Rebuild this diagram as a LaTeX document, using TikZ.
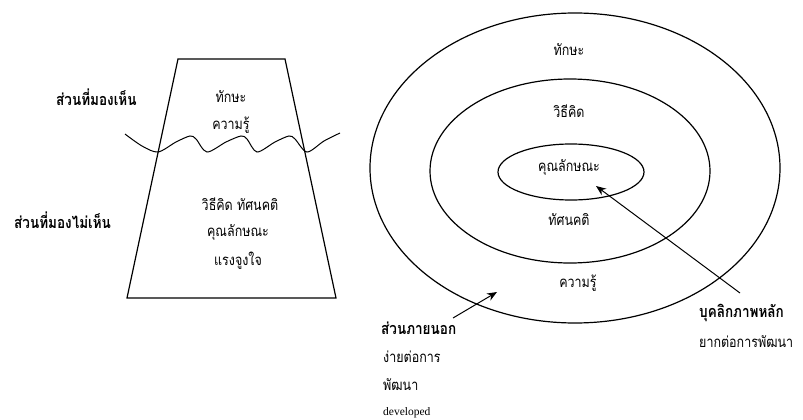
\documentclass[tikz,border=0pt]{standalone}
\usepackage{fontspec}
\usepackage{graphicx}
\newfontfamily\thai[Script=Thai]{Loma}
\setmainfont{Liberation Serif}
\newcommand{\tall}[1]{\scalebox{1}[1.2]{#1}}
\usetikzlibrary{arrows.meta}
\begin{document}
\begin{tikzpicture}[x=1pt,y=-1pt,
  line/.style={draw=black,line width=1.2pt},
  lbl/.style={font=\thai\fontsize{12.5}{14}\selectfont,inner sep=0pt},
  blbl/.style={font=\thai\bfseries\fontsize{13.5}{15}\selectfont,inner sep=0pt},
  arr/.style={draw=black,line width=1pt,-{Stealth[length=10pt,width=8pt]}}]
\useasboundingbox (0,0) rectangle (803,420);
% iceberg trapezoid
\draw[line] (178,59) -- (285,59) -- (336,298) -- (127,298) -- cycle;
% water line
\draw[line,line width=1pt] plot[smooth,tension=0.5] coordinates {(125,134) (142,146) (158,152) (176,142) (190,136) (196,139) (207,152) (226,142) (241,136) (247,139) (257,152) (275,142) (289,136) (295,139) (307,152) (324,141) (340,133)};
\node[blbl,anchor=west] (vis) at (56,97) {\tall{ส่วนที่มองเห็น}};
\node[blbl,anchor=west] (invis) at (14,220) {\tall{ส่วนที่มองไม่เห็น}};
\node[lbl] (t1) at (231,97) {\tall{ทักษะ}};
\node[lbl] (t2) at (231,125) {\tall{ความรู้}};
\node[lbl] (t3) at (240,204) {\tall{วิธีคิด ทัศนคติ}};
\node[lbl] (t4) at (238,232) {\tall{คุณลักษณะ}};
\node[lbl] (t5) at (238,261) {\tall{แรงจูงใจ}};
% concentric ellipses
\draw[line] (575,168) ellipse [x radius=205, y radius=155];
\draw[line] (570,171) ellipse [x radius=140, y radius=92];
\draw[line] (571,172) ellipse [x radius=73, y radius=28];
\node[lbl] (c1) at (569,50) {\tall{ทักษะ}};
\node[lbl] (c2) at (569,111) {\tall{วิธีคิด}};
\node[lbl] (c3) at (569,167) {\tall{คุณลักษณะ}};
\node[lbl] (c4) at (569,220) {\tall{ทัศนคติ}};
\node[lbl] (c5) at (578,283) {\tall{ความรู้}};
% arrows
\coordinate (a1s) at (740,293);
\coordinate (a1e) at (596,186);
\coordinate (a2s) at (453,318);
\coordinate (a2e) at (497,292);
\draw[arr] (a1s) -- (a1e);
\draw[arr] (a2s) -- (a2e);
% bottom labels
\node[blbl,anchor=west] (o1) at (381,328) {\tall{ส่วนภายนอก}};
\node[lbl,anchor=west] (o2) at (383,357) {\tall{ง่ายต่อการ}};
\node[lbl,anchor=west] (o3) at (383,385) {\tall{พัฒนา}};
\node[font=\fontsize{11.5}{12}\selectfont,inner sep=0pt,anchor=west] (o4) at (383,413) {developed};
\node[blbl,anchor=west] (k1) at (699,313) {\tall{บุคลิกภาพหลัก}};
\node[lbl,anchor=west] (k2) at (699,342) {\tall{ยากต่อการพัฒนา}};
\end{tikzpicture}
\end{document}
